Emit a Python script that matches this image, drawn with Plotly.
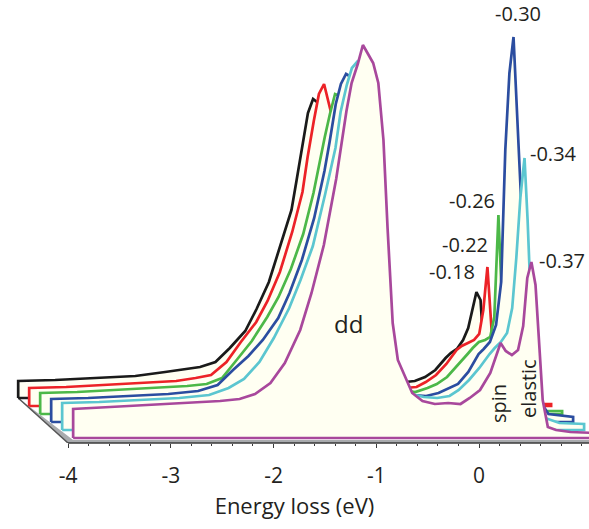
import plotly.graph_objects as go

# Energy grid (eV), front-curve frame
energy = [-3.95, -3.59, -3.20, -2.81, -2.52, -2.33, -2.18, -2.03, -1.89, -1.74,
          -1.63, -1.51, -1.39, -1.29, -1.24, -1.18, -1.13, -1.08, -1.03, -0.98,
          -0.93, -0.89, -0.84, -0.79, -0.73, -0.65, -0.55, -0.43, -0.30, -0.18,
          -0.09, 0.01, 0.11, 0.21, 0.26, 0.32, 0.38, 0.43, 0.47, 0.51,
          0.55, 0.58, 0.62, 0.67, 0.75, 0.89, 1.13]

# Intensities (arb. units), back (black) to front (magenta)
spec_018 = [17, 18, 20, 22, 26, 29, 31, 36, 50, 67,
            89, 116, 155, 188, 218, 256, 285, 299, 295, 270,
            235, 180, 120, 75, 45, 28, 20, 17, 16, 16,
            17, 21, 28, 40, 45, 49, 58, 70, 87, 106,
            98, 50, 20, 8, 4, 3, 3]
spec_022 = [18, 19, 21, 23, 25, 28, 31, 44, 64, 84,
            105, 134, 174, 214, 249, 285, 312, 322, 302, 280,
            245, 190, 125, 75, 45, 30, 22, 19, 18, 19,
            24, 31, 42, 56, 60, 63, 66, 72, 96, 139,
            80, 30, 10, 4, 3, 2, 2]
spec_026 = [21, 22, 24, 26, 28, 30, 36, 55, 73, 97,
            117, 145, 180, 221, 247, 277, 300, 320, 318, 305,
            270, 210, 135, 80, 52, 37, 28, 24, 22, 26,
            30, 37, 48, 60, 66, 72, 74, 77, 97, 199,
            100, 40, 15, 6, 4, 3, 3]
spec_030 = [23, 24, 26, 28, 31, 37, 52, 66, 82, 104,
            129, 162, 204, 251, 280, 318, 338, 348, 345, 330,
            290, 225, 140, 85, 58, 42, 32, 27, 26, 29,
            33, 38, 50, 68, 73, 80, 97, 140, 272, 349,
            385, 322, 230, 110, 30, 8, 5]
spec_034 = [27, 28, 30, 32, 35, 42, 51, 68, 92, 122,
            150, 184, 236, 282, 318, 345, 362, 368, 358, 340,
            300, 235, 150, 95, 68, 50, 36, 33, 32, 34,
            40, 50, 62, 76, 82, 88, 97, 122, 172, 233,
            272, 210, 105, 35, 12, 7, 6]
spec_037 = [29, 31, 33, 35, 37, 39, 44, 55, 75, 108,
            145, 193, 259, 327, 355, 374, 393, 384, 375, 355,
            298, 210, 115, 78, 64, 45, 37, 34, 35, 34,
            40, 48, 65, 95, 87, 83, 88, 112, 160, 176,
            153, 105, 38, 11, 8, 6, 5]

spectra = [spec_018, spec_022, spec_026, spec_030, spec_034, spec_037]
peak_labels = ["-0.18", "-0.22", "-0.26", "-0.30", "-0.34", "-0.37"]

tick_values = [-4, -3, -2, -1, 0]
tick_labels = ["-4", "-3", "-2", "-1", "0"]

# ---- styling / layout constants ----
colors = ["#1a1a1a", "#ec2227", "#4cb848", "#2b4da0", "#5bc6d0", "#a8489c"]
label_dx = [-24, -22, -26, 4, 29, 31]
label_dy = [21, 23, 15, 24, 5, 2]
DX = 0.107      # waterfall shift in eV per curve
DY = 8          # waterfall shift in intensity units per curve
XR = [-4.662, 1.0706]
YR = [-5, 438]
FILL = "#fffff2"
TXT = "#231f20"
FONT = "Open Sans"

n = len(spectra)
fig = go.Figure()

# perspective floor
x_back = energy[0] - (n - 1) * DX
y_back = (n - 1) * DY
fig.add_trace(go.Scatter(
    x=[x_back, tick_values[0], XR[1], XR[1], energy[0], x_back],
    y=[y_back, YR[0], YR[0], -2, -2, y_back],
    mode="lines", fill="toself", fillcolor="#a9abae",
    line=dict(width=0, color="#a9abae"), hoverinfo="skip", showlegend=False))
fig.add_trace(go.Scatter(
    x=[x_back, tick_values[0]], y=[y_back, YR[0]],
    mode="lines", line=dict(color="#555555", width=1.5),
    hoverinfo="skip", showlegend=False))

annotations = []
for i, (vals, col) in enumerate(zip(spectra, colors)):
    k = n - 1 - i
    xs = [e - k * DX for e in energy]
    ys = [v + k * DY for v in vals]
    base = k * DY
    fig.add_trace(go.Scatter(
        x=[xs[0]] + xs + [xs[-1], xs[0]],
        y=[base] + ys + [base, base],
        mode="lines", fill="toself", fillcolor=FILL,
        line=dict(color=col, width=2.7),
        hoverinfo="skip", showlegend=False))
    # low-energy peak label
    idx = max((j for j, e in enumerate(energy) if e > 0.3), key=lambda j: vals[j])
    annotations.append(dict(
        x=xs[idx], y=ys[idx], xref="x", yref="y", text=peak_labels[i],
        showarrow=False, xanchor="center", yanchor="middle",
        xshift=label_dx[i], yshift=label_dy[i],
        font=dict(family=FONT, size=20, color=TXT)))

annotations += [
    dict(x=-1.275, y=115, xref="x", yref="y", text="dd", showarrow=False,
         font=dict(family=FONT, size=24, color=TXT)),
    dict(x=0.185, y=34, xref="x", yref="y", text="spin", showarrow=False,
         textangle=-90, font=dict(family=FONT, size=20, color=TXT)),
    dict(x=0.477, y=49, xref="x", yref="y", text="elastic", showarrow=False,
         textangle=-90, font=dict(family=FONT, size=20, color=TXT)),
]

minor_vals = [round(-4 + 0.2 * j, 1) for j in range(1, 26)]
minor_vals = [v for v in minor_vals if v not in tick_values]

fig.update_layout(
    width=589, height=529,
    margin=dict(l=0, r=0, t=0, b=86),
    paper_bgcolor="white", plot_bgcolor="white",
    annotations=annotations,
    shapes=[dict(type="line", xref="x", yref="paper", x0=tick_values[0], x1=XR[1],
                 y0=0, y1=0, line=dict(color="#3a3a3a", width=1.5))],
    xaxis=dict(range=XR, showgrid=False, zeroline=False, showline=False,
               tickmode="array", tickvals=tick_values, ticktext=tick_labels,
               ticks="outside", ticklen=4, tickwidth=1, tickcolor="#3a3a3a",
               ticklabelstandoff=10,
               minor=dict(tickmode="array", tickvals=minor_vals, ticks="outside",
                          ticklen=2, tickcolor="#3a3a3a", showgrid=False),
               tickfont=dict(family=FONT, size=21, color=TXT),
               title=dict(text="Energy loss (eV)", standoff=10,
                          font=dict(family=FONT, size=22, color=TXT)),
               fixedrange=True),
    yaxis=dict(range=YR, visible=False, fixedrange=True),
)

fig.write_html("out.html")
